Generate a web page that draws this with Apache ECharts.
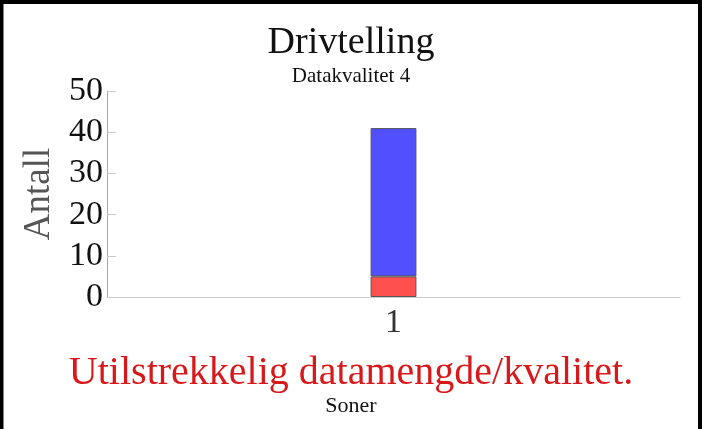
<!DOCTYPE html>
<html><head><meta charset="utf-8">
<script src="https://cdn.jsdelivr.net/npm/echarts@6/dist/echarts.min.js"></script>
<style>html,body{margin:0;padding:0;background:#fff}#c{width:702px;height:429px}</style>
</head><body><div id="c"></div>
<script>
const categories = ['1'];
const redValues = [5];
const blueValues = [36];
const yTicks = [0, 10, 20, 30, 40, 50];
const titleText = 'Drivtelling';
const subText = 'Datakvalitet 4';
const warningText = 'Utilstrekkelig datamengde/kvalitet.';
const xName = 'Soner';
const yName = 'Antall';

const F = 'Liberation Serif';
const chart = echarts.init(document.getElementById('c'), null, {renderer: 'canvas'});
chart.setOption({
  animation: false,
  backgroundColor: '#fff',
  title: [
    {text: titleText, left: 'center', top: 19,
     textStyle: {fontFamily: F, fontSize: 38, fontWeight: 'normal', color: '#111'}},
    {text: subText, left: 'center', top: 61,
     textStyle: {fontFamily: F, fontSize: 21, fontWeight: 'normal', color: '#111'}},
    {text: warningText, left: 'center', top: 348,
     textStyle: {fontFamily: F, fontSize: 40, fontWeight: 'normal', color: '#d7191c'}},
    {text: xName, left: 'center', top: 390,
     textStyle: {fontFamily: F, fontSize: 22, fontWeight: 'normal', color: '#111'}}
  ],
  grid: {left: 107, right: 22, top: 91, bottom: 132, containLabel: false},
  xAxis: {
    type: 'category', data: categories,
    axisLine: {lineStyle: {color: '#ccc', width: 1}},
    axisTick: {show: true, inside: true, alignWithLabel: true, length: 3, lineStyle: {color: '#ccc'}},
    axisLabel: {fontFamily: F, fontSize: 34, color: '#333', margin: 9}
  },
  yAxis: {
    type: 'value', min: yTicks[0], max: yTicks[yTicks.length - 1], interval: 10,
    name: yName, nameLocation: 'middle', nameGap: 47, nameRotate: 90,
    nameTextStyle: {fontFamily: F, fontSize: 37, color: '#555'},
    axisLine: {show: true, lineStyle: {color: '#aaa', width: 1}},
    axisTick: {show: true, inside: true, length: 9, lineStyle: {color: '#ccc'}},
    splitLine: {show: false},
    axisLabel: {fontFamily: F, fontSize: 34, color: '#111', margin: 4}
  },
  series: [
    {type: 'bar', stack: 's', data: redValues, barWidth: '8%',
     itemStyle: {color: '#ff5050', borderColor: '#555', borderWidth: 1}},
    {type: 'bar', stack: 's', data: blueValues, barWidth: '8%',
     itemStyle: {color: '#5050ff', borderColor: '#555', borderWidth: 1}}
  ],
  graphic: [{type: 'polyline', silent: true,
    shape: {points: [[1.5, 429], [1.5, 2], [700, 2], [700, 429]]},
    style: {stroke: '#000', lineWidth: 4, fill: null}}]
});
</script></body></html>
